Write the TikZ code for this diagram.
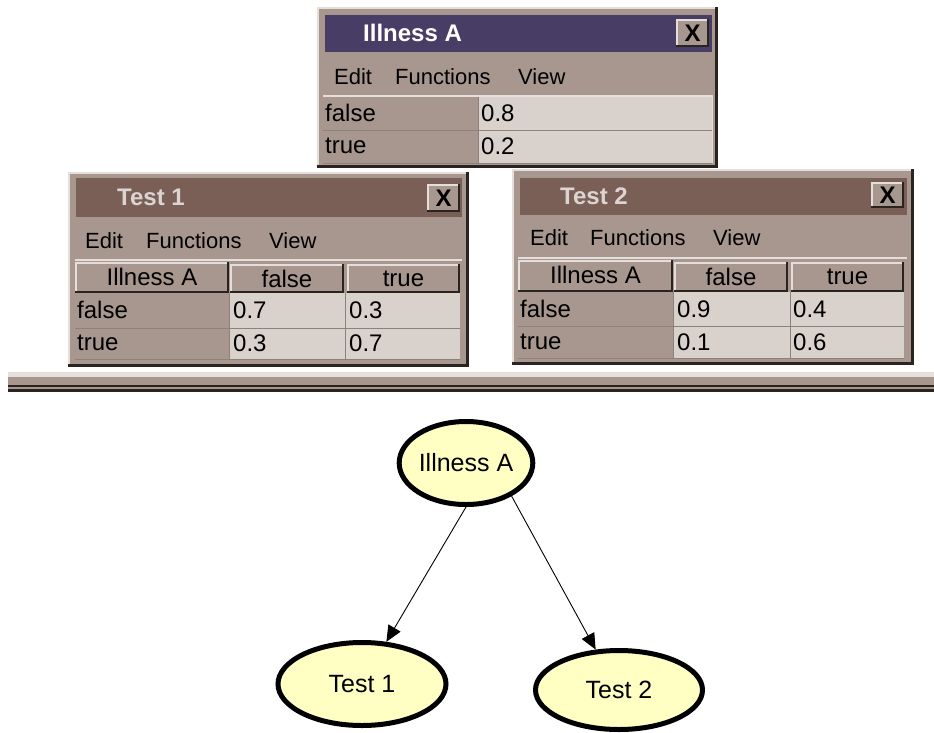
\documentclass[tikz,border=0pt]{standalone}
\usepackage{fontspec}
\setmainfont{Liberation Sans}
\usetikzlibrary{arrows.meta,shapes.geometric}
\definecolor{bodyc}{HTML}{A8978F}
\definecolor{cellc}{HTML}{D9D1CC}
\definecolor{titleA}{HTML}{483D64}
\definecolor{titleT}{HTML}{7A5F57}
\definecolor{titletxtT}{HTML}{DCD4D0}
\definecolor{lightc}{HTML}{E6DEDA}
\definecolor{darkc}{HTML}{2A2420}
\definecolor{gridc}{HTML}{8E807A}
\definecolor{nodefill}{HTML}{FFFFC4}
\newcommand\mywin[4]{%
  \fill[bodyc] (#1,#2) rectangle (#3,#4);
  \draw[lightc,line width=2pt] (#1+1,#4) -- (#1+1,#2+1) -- (#3,#2+1);
  \draw[darkc,line width=3pt] (#3-1.5,#2) -- (#3-1.5,#4-1.5) -- (#1,#4-1.5);
}
\newcommand\mybevel[4]{%
  \fill[bodyc] (#1,#2) rectangle (#3,#4);
  \draw[lightc,line width=1.5pt] (#1+0.75,#4) -- (#1+0.75,#2+0.75) -- (#3,#2+0.75);
  \draw[darkc,line width=2pt] (#3-1,#2) -- (#3-1,#4-1) -- (#1,#4-1);
}
\tikzset{
  celltext/.style={font=\fontsize{24}{28}\selectfont, inner sep=0pt, text=black},
  menutext/.style={font=\fontsize{22}{26}\selectfont, inner sep=0pt, text=black, anchor=west},
  titletext/.style={font=\fontsize{24}{28}\selectfont\bfseries, inner sep=0pt, anchor=west},
  xtext/.style={font=\fontsize{24}{28}\selectfont\bfseries, inner sep=0pt, text=black},
  bn/.style={ellipse, draw=black, line width=5pt, fill=nodefill, inner sep=0pt,
    font=\fontsize{25}{30}\selectfont},
  edge/.style={draw=black, line width=0.9pt, -{Triangle[length=16pt,width=14pt]}},
}
\begin{document}
\begin{tikzpicture}[x=1pt,y=-1pt]
\useasboundingbox (0,0) rectangle (934,732);
\fill[white] (0,0) rectangle (934,732);

% ---------- Illness A window ----------
\mywin{317}{7}{718}{168}
\fill[titleA] (325,15) rectangle (712,52);
\node[titletext, text=white] (tA) at (363,33) {Illness A};
\mybevel{676}{19}{709}{47}
\node[xtext] (xA) at (692.5,33) {X};
\node[menutext] (mA1) at (334,77) {Edit};
\node[menutext] (mA2) at (395,77) {Functions};
\node[menutext] (mA3) at (518,77) {View};
\draw[lightc,line width=1.5pt] (323,96) -- (713,96);
\fill[bodyc] (323,97) rectangle (478,163);
\fill[cellc] (478,97) rectangle (712,163);
\draw[gridc,line width=1pt] (323,130) -- (712,130) (478,97) -- (478,163) (323,163) -- (712,163);
\draw[lightc,line width=1pt] (712,97) -- (712,163);
\node[celltext,anchor=west] (a1) at (325,113) {false};
\node[celltext,anchor=west] (a2) at (325,146) {true};
\node[celltext,anchor=west] (a3) at (481,113) {0.8};
\node[celltext,anchor=west] (a4) at (481,146) {0.2};

% ---------- Test 1 window ----------
\mywin{68}{172}{469}{367}
\fill[titleT] (76,178) rectangle (462,217);
\node[titletext, text=titletxtT] (t1t) at (117,197) {Test 1};
\mybevel{427}{184}{460}{212}
\node[xtext] (x1) at (443.5,198) {X};
\node[menutext] (m11) at (85,241) {Edit};
\node[menutext] (m12) at (146,241) {Functions};
\node[menutext] (m13) at (269,241) {View};
\draw[lightc,line width=1.5pt] (75,260) -- (462,260);
\mybevel{75}{262}{229}{293}
\mybevel{230}{264}{344}{293}
\mybevel{347}{264}{460}{293}
\node[celltext] (h11) at (152,277) {Illness A};
\node[celltext] (h12) at (287,279) {false};
\node[celltext] (h13) at (403.5,279) {true};
\fill[bodyc] (75,293) rectangle (229,359);
\fill[cellc] (229,293) rectangle (460,359);
\draw[gridc,line width=1pt] (75,328) -- (460,328) (229,293) -- (229,359) (345,293) -- (345,359) (75,359) -- (460,359);
\node[celltext,anchor=west] (c11) at (77,310) {false};
\node[celltext,anchor=west] (c12) at (77,343) {true};
\node[celltext,anchor=west] (c13) at (233,310) {0.7};
\node[celltext,anchor=west] (c14) at (349,310) {0.3};
\node[celltext,anchor=west] (c15) at (233,343) {0.3};
\node[celltext,anchor=west] (c16) at (349,343) {0.7};

% ---------- Test 2 window ----------
\mywin{512}{169}{914}{365}
\fill[titleT] (520,178) rectangle (907,215);
\node[titletext, text=titletxtT] (t2t) at (560,196) {Test 2};
\mybevel{871}{182}{904}{208}
\node[xtext] (x2) at (887.5,195) {X};
\node[menutext] (m21) at (530,238) {Edit};
\node[menutext] (m22) at (590,238) {Functions};
\node[menutext] (m23) at (713,238) {View};
\draw[lightc,line width=1.5pt] (518,258) -- (907,258);
\mybevel{518}{260}{673}{292}
\mybevel{674}{262}{788}{292}
\mybevel{791}{262}{904}{292}
\node[celltext] (h21) at (595.5,275) {Illness A};
\node[celltext] (h22) at (731,277) {false};
\node[celltext] (h23) at (847.5,277) {true};
\fill[bodyc] (518,292) rectangle (673,358);
\fill[cellc] (673,292) rectangle (904,358);
\draw[gridc,line width=1pt] (518,326) -- (904,326) (673,292) -- (673,358) (790,292) -- (790,358) (518,358) -- (904,358);
\node[celltext,anchor=west] (c21) at (520,309) {false};
\node[celltext,anchor=west] (c22) at (520,342) {true};
\node[celltext,anchor=west] (c23) at (677,309) {0.9};
\node[celltext,anchor=west] (c24) at (793,309) {0.4};
\node[celltext,anchor=west] (c25) at (677,342) {0.1};
\node[celltext,anchor=west] (c26) at (793,342) {0.6};

% ---------- divider ----------
\fill[lightc] (8,372) rectangle (934,377);
\fill[bodyc] (8,377) rectangle (934,385);
\fill[darkc] (8,385) rectangle (934,387);
\fill[bodyc] (8,387) rectangle (934,389);
\fill[darkc] (8,389) rectangle (934,392);

% ---------- network ----------
\node[bn, minimum width=117pt, minimum height=83pt] (ia) at (466,463) {Illness A};
\node[bn, minimum width=168pt, minimum height=83pt] (t1) at (362,684) {Test 1};
\node[bn, minimum width=167pt, minimum height=79pt] (t2) at (619,690) {Test 2};
\draw[edge] (ia.-90) -- (t1.60);
\draw[edge] (ia.-36) -- (t2.120);
\end{tikzpicture}
\end{document}
